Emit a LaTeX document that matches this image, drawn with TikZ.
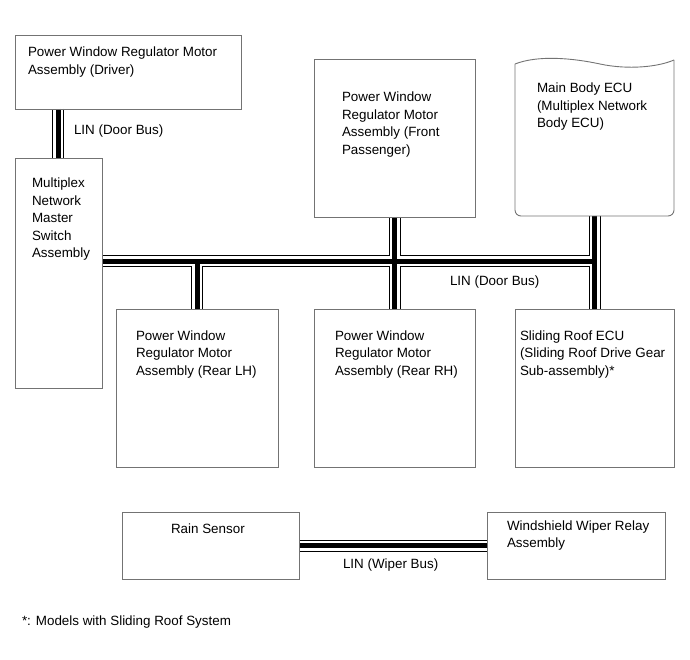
\documentclass[tikz,border=0pt]{standalone}
\usepackage{fontspec}
\setmainfont{Liberation Sans}
\usetikzlibrary{calc}
\newcommand\fs{\rule{0pt}{11pt}}
\begin{document}
\begin{tikzpicture}[x=1pt,y=-1pt,
  box/.style={draw=none, fill=none, inner sep=0pt, outer sep=0pt, anchor=north west},
  boxline/.style={draw=black!55, line width=0.9pt},
  txt/.style={anchor=north west, inner sep=0pt, outer sep=0pt, align=left, font=\fontsize{13.4}{17.5}\selectfont},
  bus/.style={draw=black, line width=12pt, postaction={draw=white, line width=10pt}, postaction={draw=black, line width=5pt}}]
\useasboundingbox (0,0) rectangle (690,660);
% box placeholders (positions)
\node[box, minimum width=226pt, minimum height=74pt] (drv) at (15,35) {};
\node[box, minimum width=87pt, minimum height=230pt] (msw) at (15,158) {};
\node[box, minimum width=161pt, minimum height=158pt] (fp) at (314,59) {};
\node[box, minimum width=159pt, minimum height=158pt] (ecu) at (515,58) {};
\node[box, minimum width=162pt, minimum height=158pt] (rlh) at (116,309) {};
\node[box, minimum width=161pt, minimum height=158pt] (rrh) at (314,309) {};
\node[box, minimum width=159pt, minimum height=158pt] (sr) at (515,309) {};
\node[box, minimum width=177pt, minimum height=67pt] (rain) at (122,512) {};
\node[box, minimum width=178pt, minimum height=67pt] (wip) at (487,512) {};
\coordinate (hR) at (594.5,261);
% buses
\path[bus] ($(drv.south west)+(43,0)$) -- ($(msw.north west)+(43,0)$);
\path[bus] (msw.east |- hR) -- (ecu.south |- hR)
  (ecu.south) -- (sr.north)
  (fp.south) -- (rrh.north)
  (rlh.north |- hR) -- (rlh.north);
\path[bus] (rain.east) -- (wip.west);
% boxes
\foreach \n in {drv,msw,fp,rlh,rrh,sr,rain,wip}{
  \draw[boxline] (\n.north west) rectangle (\n.south east);
}
\draw[boxline, rounded corners=6pt]
  ($(ecu.north west)+(0,6)$) -- (ecu.south west) -- (ecu.south east) -- ($(ecu.north east)+(0,2)$);
\draw[boxline]
  ($(ecu.north west)+(0,6)$) .. controls (538,55) and (572,58) .. (600,64)
  .. controls (628,70) and (658,67) .. ($(ecu.north east)+(0,2)$);
% texts
\node[txt] (drvt) at (28,46) {\fs Power Window Regulator Motor\\Assembly (Driver)};
\node[txt] (mswt) at (32,177) {\fs Multiplex\\Network\\Master\\Switch\\Assembly};
\node[txt] (fpt) at (342,91) {\fs Power Window\\Regulator Motor\\Assembly (Front\\Passenger)};
\node[txt] (ecut) at (537,82) {\fs Main Body ECU\\(Multiplex Network\\Body ECU)};
\node[txt] (rlht) at (136,329) {\fs Power Window\\Regulator Motor\\Assembly (Rear LH)};
\node[txt] (rrht) at (335,329) {\fs Power Window\\Regulator Motor\\Assembly (Rear RH)};
\node[txt] (srt) at (520,329) {\fs Sliding Roof ECU\\(Sliding Roof Drive Gear\\Sub-assembly)*};
\node[txt] (raint) at (171,522) {\fs Rain Sensor};
\node[txt] (wipt) at (507,519) {\fs Windshield Wiper Relay\\Assembly};
\node[txt] (lin1) at (74,124) {\fs LIN (Door Bus)};
\node[txt] (lin2) at (450,274) {\fs LIN (Door Bus)};
\node[txt] (lin3) at (343,557) {\fs LIN (Wiper Bus)};
\node[txt] (foot) at (22,614) {\fs *: Models with Sliding Roof System};
\end{tikzpicture}
\end{document}
